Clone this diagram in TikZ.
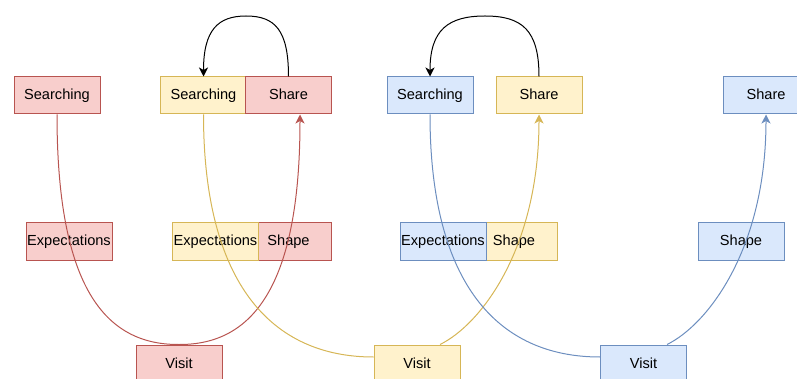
\documentclass[tikz,border=0pt]{standalone}
\usepackage{fontspec}
\setmainfont{Liberation Sans}
\usetikzlibrary{arrows.meta,calc}
\definecolor{rfill}{HTML}{F8CECC}\definecolor{rdraw}{HTML}{B85450}
\definecolor{yfill}{HTML}{FFF2CC}\definecolor{ydraw}{HTML}{D6B656}
\definecolor{bfill}{HTML}{DAE8FC}\definecolor{bdraw}{HTML}{6C8EBF}
\begin{document}
\begin{tikzpicture}[x=1pt,y=-1pt,
  box/.style={draw, line width=1pt, minimum width=86pt, minimum height=37pt, inner sep=0pt,
    text height=11pt, text depth=2pt,
    font=\fontsize{14.6}{16}\selectfont},
  rbox/.style={box, fill=rfill, draw=rdraw},
  ybox/.style={box, fill=yfill, draw=ydraw},
  bbox/.style={box, fill=bfill, draw=bdraw},
  edge/.style={line width=1pt},
  tip/.style={-{Stealth[length=9pt,width=9pt,inset=2.5pt]}}]
\useasboundingbox (0,0) rectangle (797,379);
\clip (0,0) rectangle (797,379);
% top row
\node[rbox] (s1) at (57,95.5) {Searching};
\node[ybox] (s2) at (203.5,95.5) {Searching};
\node[rbox] (sh1) at (288.5,95.5) {Share};
\node[bbox] (s3) at (430,95.5) {Searching};
\node[ybox] (sh2) at (539,95.5) {Share};
\node[bbox] (sh3) at (766,95.5) {Share};
% middle row
\node[rbox] (e1) at (69,241.5) {Expectations};
\node[rbox] (sp1) at (288.5,241.5) {Shape};
\node[ybox] (e2) at (215.5,241.5) {Expectations};
\node[ybox] (sp2) at (514,241.5) {Shape};
\node[bbox] (e3) at (443,241.5) {Expectations};
\node[bbox] (sp3) at (741,241.5) {Shape};
% bottom row
\node[rbox] (v1) at (179,363.5) {Visit};
\node[ybox] (v2) at (417,363.5) {Visit};
\node[bbox] (v3) at (643.5,363.5) {Visit};
% red
\draw[edge, rdraw] (s1.south) .. controls (57,287) and (105,345) .. (v1.north);
\draw[edge, rdraw, tip] (v1.north) .. controls (252,345) and (300,287) .. ([xshift=11.5pt]sh1.south);
% yellow
\draw[edge, ydraw] (s2.south) .. controls (203.5,284) and (272,357) .. ([yshift=6.5pt]v2.west);
\draw[edge, ydraw, tip] ([xshift=23pt]v2.north) .. controls (480,325) and (539,250) .. (sh2.south);
% blue
\draw[edge, bdraw] (s3.south) .. controls (430,284) and (498,357) .. ([yshift=6.5pt]v3.west);
\draw[edge, bdraw, tip] ([xshift=23.5pt]v3.north) .. controls (707,325) and (766,250) .. (sh3.south);
% black
\draw[edge, tip] (sh1.north) .. controls (288.5,30) and (275,16) .. (246,16) .. controls (218,16) and (203.5,30) .. (s2.north);
\draw[edge, tip] (sh2.north) .. controls (539,30) and (522,16) .. (485,16) .. controls (448,16) and (430,30) .. (s3.north);
\end{tikzpicture}
\end{document}
